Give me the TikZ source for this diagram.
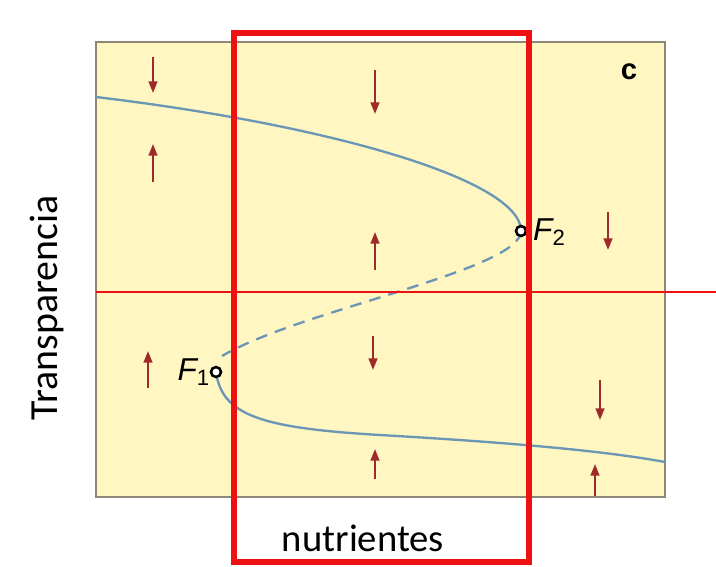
\documentclass[tikz,border=0pt]{standalone}
\usepackage{fontspec}
\setmainfont{Carlito}
\newfontfamily\arialfont{Liberation Sans}
\usetikzlibrary{arrows.meta}
\definecolor{panelfill}{HTML}{FFF6C2}
\definecolor{panelline}{HTML}{8C8776}
\definecolor{markred}{HTML}{EE1111}
\definecolor{flowred}{HTML}{9E2A2A}
\definecolor{branchblue}{HTML}{6B96B5}
\tikzset{
  flow/.style={line width=1.7pt, flowred, -{Triangle[length=10pt,width=7.5pt]}},
  branch/.style={line width=2pt, branchblue},
  fold/.style={circle, draw=black, fill=white, line width=2.2pt, inner sep=0pt, minimum size=8.5pt},
  foldlabel/.style={font=\arialfont\itshape\fontsize{27}{30}\selectfont, inner sep=0pt}
}
\begin{document}
\begin{tikzpicture}[x=0.03cm, y=-0.03cm]
  \useasboundingbox (0,0) rectangle (716,567);
  % panel
  \draw[panelline, fill=panelfill, line width=1.6pt] (96,42) rectangle (665,497);
  % fold curve
  \coordinate (f2) at (521,231);
  \coordinate (f1) at (216,372);
  \draw[branch] (96,97) .. controls (330,125) and (521,180) .. (f2);
  \draw[branch, dash pattern=on 10pt off 7pt] (f2) .. controls (521,270) and (300,310) .. (222,356);
  \draw[branch] (f1) .. controls (222,415) and (260,428) .. (380,435)
    .. controls (500,442) and (600,450) .. (665,462);
  % arrows
  \draw[flow] (153,57) -- (153,93);
  \draw[flow] (153,182) -- (153,144);
  \draw[flow] (375,70) -- (375,114);
  \draw[flow] (375,270) -- (375,232);
  \draw[flow] (608,212) -- (608,250);
  \draw[flow] (148,388) -- (148,351);
  \draw[flow] (373,336) -- (373,370);
  \draw[flow] (375,479) -- (375,449);
  \draw[flow] (600,380) -- (600,420);
  \draw[flow] (595,496) -- (595,464);
  % fold points
  \node[fold] (F2) at (f2) {};
  \node[fold] (F1) at (f1) {};
  \node[foldlabel, anchor=west] (F2lab) at (533,232) {F\textsubscript{\upshape 2}};
  \node[foldlabel, anchor=east] (F1lab) at (210,372) {F\textsubscript{\upshape 1}};
  \node[font=\arialfont\bfseries\fontsize{25}{28}\selectfont] (tag) at (629,72) {c};
  % axis texts
  \node[rotate=90, font=\fontsize{34}{38}\selectfont] (ylab) at (47,308) {Transparencia};
  \node[font=\fontsize{33}{36}\selectfont, anchor=base] (xlab) at (363,552) {nutrientes};
  % highlights
  \draw[markred, line width=1.7pt] (96,292) -- (716,292);
  \draw[markred, line width=5pt] (234,33) rectangle (529,562);
\end{tikzpicture}
\end{document}
